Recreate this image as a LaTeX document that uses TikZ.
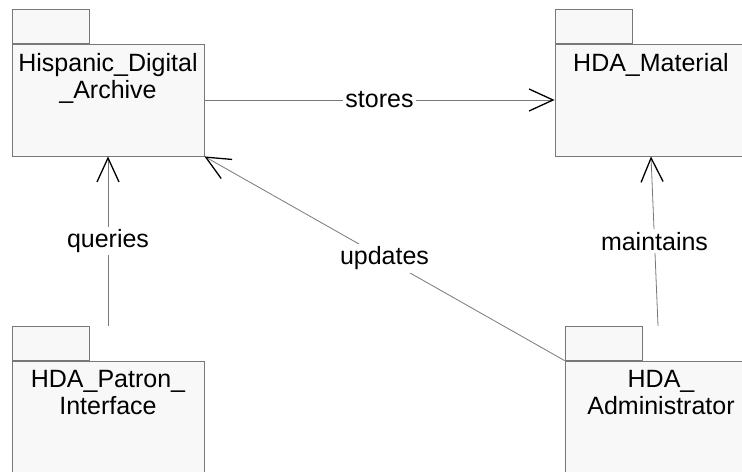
\documentclass[tikz,border=0pt]{standalone}
\usepackage{fontspec}
\setmainfont{Liberation Sans}
\usetikzlibrary{arrows.meta,positioning}

\definecolor{pkgline}{RGB}{120,120,120}
\definecolor{pkgfill}{RGB}{248,248,248}

\tikzset{
  pkgbody/.style={draw=pkgline,fill=pkgfill,line width=0.8bp,minimum width=192bp,minimum height=112bp,inner sep=0pt},
  pkgtab/.style={draw=pkgline,fill=pkgfill,line width=0.8bp,minimum width=77bp,minimum height=34bp,inner sep=0pt},
  pkgname/.style={inner sep=0pt,align=center,font=\fontsize{25bp}{27bp}\selectfont},
  dep/.style={draw=pkgline,line width=0.8bp,-{Straight Barb[length=24bp,width=22bp,line width=1.3bp,color=black]}},
  deplabel/.style={midway,fill=white,inner sep=2.5bp,font=\fontsize{25bp}{27bp}\selectfont}
}

\begin{document}
\begin{tikzpicture}[x=1bp,y=-1bp]
\useasboundingbox (0,0) rectangle (742,472);
\clip (0,0) rectangle (742,472);
% packages
\node[pkgbody] (archive) at (108,100) {};
\node[pkgtab] (archivetab) [above right=0pt and 0pt of archive.north west] {};
\node[pkgname] (archivename) [below=10bp of archive.north] {Hispanic\_Digital\\\_Archive};
\node[pkgbody] (material) at (651,100) {};
\node[pkgtab] (materialtab) [above right=0pt and 0pt of material.north west] {};
\node[pkgname] (materialname) [below=10bp of material.north] {HDA\_Material};
\node[pkgbody] (patron) at (108,417) {};
\node[pkgtab] (patrontab) [above right=0pt and 0pt of patron.north west] {};
\node[pkgname] (patronname) [below=10bp of patron.north] {HDA\_Patron\_\\Interface};
\node[pkgbody] (admin) at (661,417) {};
\node[pkgtab] (admintab) [above right=0pt and 0pt of admin.north west] {};
\node[pkgname] (adminname) [below=10bp of admin.north] {HDA\_\\Administrator};
% dependencies
\draw[dep] (archive.east) -- node[deplabel] (stores) {stores} (material.west);
\draw[dep] (patron.north |- patrontab.north) -- node[deplabel] (queries) {queries} (archive.south);
\draw[dep] ([xshift=-3bp]admin.north |- admintab.north) -- node[deplabel] (maintains) {maintains} (material.south);
\draw[dep] (admin.north west) -- node[deplabel] (updates) {updates} (archive.south east);
\end{tikzpicture}
\end{document}
